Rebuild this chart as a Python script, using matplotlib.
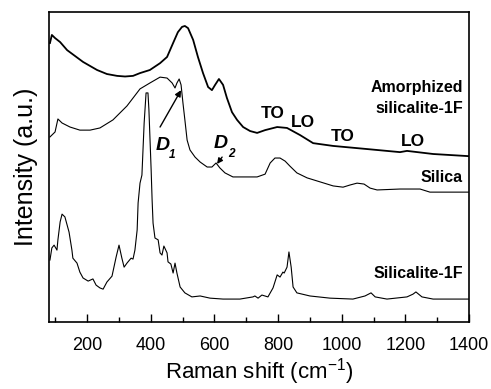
import matplotlib
matplotlib.use('Agg')
import matplotlib.pyplot as plt
import numpy as np

plt.rcParams['font.family'] = ['Liberation Sans', 'DejaVu Sans']
plt.rcParams['mathtext.fontset'] = 'custom'
plt.rcParams['mathtext.rm'] = 'Liberation Sans'

# Amorphized silicalite-1F (top trace)
amorph_x = [83, 89, 99, 115, 137, 162, 187, 209, 231, 262, 294, 319, 344, 366,
            397, 429, 451, 470, 485, 498, 507, 517, 533, 548, 564, 580, 592,
            602, 614, 627, 639, 655, 671, 690, 712, 734, 759, 797, 828, 869,
            910, 973, 1079, 1183, 1205, 1287, 1400]
amorph_y = [90.0, 92.6, 91.6, 90.3, 87.7, 85.8, 83.9, 82.6, 81.3, 80.0, 79.4,
            79.2, 79.4, 80.3, 81.3, 83.5, 85.5, 90.0, 93.5, 95.2, 95.5, 94.8,
            91.0, 85.5, 80.3, 75.8, 74.8, 76.5, 78.4, 76.5, 72.3, 67.7, 65.2,
            62.9, 61.6, 61.0, 61.9, 62.9, 62.6, 60.3, 57.7, 56.8, 55.8, 54.8,
            55.2, 54.2, 53.5]

# Silica (middle trace)
silica_x = [83, 99, 108, 115, 121, 146, 177, 209, 240, 281, 325, 366, 397, 429,
            451, 467, 476, 482, 489, 495, 501, 507, 514, 523, 539, 555, 577,
            592, 605, 617, 633, 658, 702, 734, 759, 775, 790, 806, 822, 837,
            859, 891, 932, 973, 1004, 1026, 1048, 1070, 1089, 1111, 1183, 1246,
            1277, 1400]
silica_y = [59.7, 61.3, 65.5, 64.8, 64.2, 62.9, 61.9, 61.9, 62.6, 65.2, 69.7,
            75.2, 77.1, 79.0, 78.7, 77.1, 75.5, 77.1, 78.4, 76.5, 70.6, 65.2,
            58.7, 55.5, 53.2, 51.6, 50.0, 50.0, 51.3, 49.7, 48.1, 46.8, 46.8,
            46.8, 47.7, 51.3, 52.9, 52.9, 51.9, 50.3, 48.1, 46.5, 45.2, 43.9,
            43.5, 44.2, 44.8, 44.5, 43.2, 42.6, 42.9, 42.9, 41.9, 41.9]

# Silicalite-1F (bottom trace)
sil1f_x = [83, 89, 96, 105, 108, 115, 121, 130, 143, 152, 155, 168, 177, 187,
           203, 218, 228, 240, 250, 262, 278, 291, 300, 309, 316, 325, 338,
           344, 350, 357, 360, 366, 372, 379, 385, 391, 394, 401, 404, 407,
           413, 423, 429, 435, 441, 451, 454, 463, 470, 476, 482, 492, 507,
           529, 555, 586, 627, 680, 721, 727, 737, 749, 768, 784, 797, 806,
           815, 819, 828, 834, 841, 847, 859, 900, 963, 1035, 1073, 1092, 1105,
           1142, 1205, 1224, 1233, 1252, 1287, 1400]
sil1f_y = [20.0, 23.9, 24.8, 23.2, 26.5, 32.3, 34.8, 33.9, 29.0, 23.2, 20.6,
           19.0, 16.1, 14.2, 13.2, 13.9, 11.9, 11.0, 10.6, 12.9, 14.8, 21.0,
           24.8, 20.6, 17.7, 19.0, 20.6, 20.3, 23.2, 29.7, 38.4, 44.8, 47.4,
           64.2, 73.9, 73.9, 68.4, 49.0, 39.4, 31.9, 27.1, 26.5, 22.3, 21.6,
           24.5, 22.3, 19.4, 18.7, 15.8, 19.0, 15.8, 11.3, 9.4, 8.1, 8.4, 7.7,
           7.4, 7.4, 8.1, 8.4, 7.7, 8.7, 8.1, 11.0, 15.2, 14.5, 16.1, 15.8,
           17.7, 22.6, 17.7, 11.3, 9.4, 8.4, 7.7, 7.4, 8.4, 9.4, 8.1, 7.4, 8.1,
           9.0, 9.7, 8.1, 7.4, 7.4]

fig = plt.figure(figsize=(4.91, 3.89), dpi=100)
ax = fig.add_axes([0.0998, 0.1722, 0.8555, 0.7969])

ax.plot(amorph_x, amorph_y, color='black', linewidth=1.3)
ax.plot(silica_x, silica_y, color='black', linewidth=0.8)
ax.plot(sil1f_x, sil1f_y, color='black', linewidth=0.8)

ax.set_xlim(80, 1400)
ax.set_ylim(0, 100)
ax.set_xticks([200, 400, 600, 800, 1000, 1200, 1400])
ax.set_xticks(np.arange(100, 1400, 200), minor=True)
ax.set_yticks([])
ax.tick_params(axis='x', which='major', direction='in', length=6, width=1,
               labelsize=13, pad=11)
ax.tick_params(axis='x', which='minor', direction='in', length=3.5, width=1)
for sp in ax.spines.values():
    sp.set_linewidth(1.2)

ax.set_xlabel('Raman shift (cm$^{-1}$)', fontsize=16, labelpad=1)
ax.set_ylabel('Intensity (a.u.)', fontsize=18, labelpad=8)

# trace names
ax.text(1381, 75.8, 'Amorphized', ha='right', va='center', fontsize=11.5,
        fontweight='bold')
ax.text(1381, 69.0, 'silicalite-1F', ha='right', va='center', fontsize=11.5,
        fontweight='bold')
ax.text(1381, 46.5, 'Silica', ha='right', va='center', fontsize=11.5,
        fontweight='bold')
ax.text(1381, 15.8, 'Silicalite-1F', ha='right', va='center', fontsize=11.5,
        fontweight='bold')

# TO / LO bands
for x, y, s in [(784, 67.4, 'TO'), (878, 64.2, 'LO'),
                (1004, 60.0, 'TO'), (1224, 58.1, 'LO')]:
    ax.text(x, y, s, ha='center', va='center', fontsize=12.5, fontweight='bold')

# defect bands D1 and D2
ax.text(438, 57.1, 'D', ha='center', va='center', fontsize=14,
        fontweight='bold', fontstyle='italic')
ax.text(468, 54.0, '1', ha='center', va='center', fontsize=8.5,
        fontweight='bold', fontstyle='italic')
ax.text(621, 57.7, 'D', ha='center', va='center', fontsize=14,
        fontweight='bold', fontstyle='italic')
ax.text(652, 54.3, '2', ha='center', va='center', fontsize=8.5,
        fontweight='bold', fontstyle='italic')

ax.annotate('', xy=(495, 74.8), xytext=(429, 62.9),
            arrowprops=dict(arrowstyle='-|>', color='black', lw=1.0,
                            mutation_scale=9, shrinkA=0, shrinkB=0))
ax.annotate('', xy=(608, 51.0), xytext=(624, 53.2),
            arrowprops=dict(arrowstyle='-|>', color='black', lw=1.0,
                            mutation_scale=8, shrinkA=0, shrinkB=0))

plt.savefig('out.png', dpi=100)
